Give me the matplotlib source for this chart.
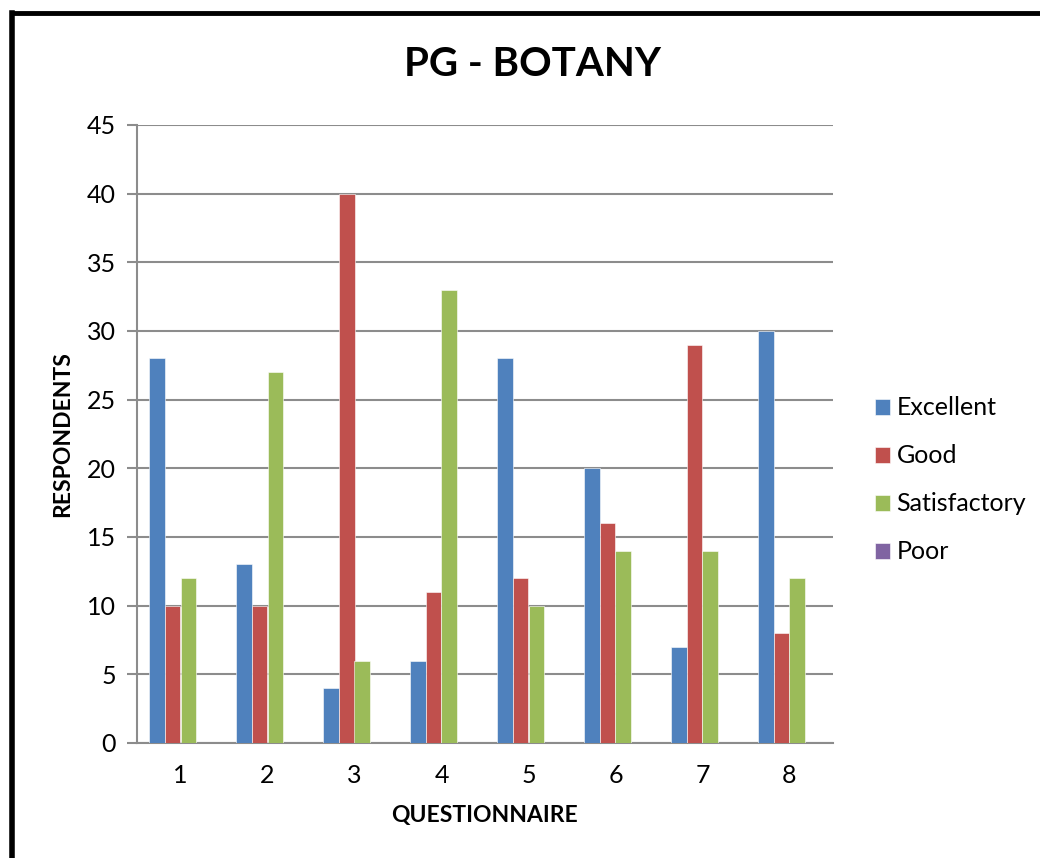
import matplotlib
matplotlib.use("Agg")
import matplotlib.pyplot as plt
import numpy as np
from matplotlib.lines import Line2D

questions = ["1", "2", "3", "4", "5", "6", "7", "8"]
series_names = ["Excellent", "Good", "Satisfactory", "Poor"]
excellent = [28, 13, 4, 6, 28, 20, 7, 30]
good = [10, 10, 40, 11, 12, 16, 29, 8]
satisfactory = [12, 27, 6, 33, 10, 14, 14, 12]
poor = [0, 0, 0, 0, 0, 0, 0, 0]
colors = ["#4F81BD", "#C0504D", "#9BBB59", "#8064A2"]

plt.rcParams['font.family'] = ['Lato', 'DejaVu Sans']

W, H = 1040, 858
fig = plt.figure(figsize=(W / 100, H / 100), dpi=100)
ax = fig.add_axes([137 / W, 1 - 743 / H, (833 - 137) / W, (743 - 125) / H])

x = np.arange(1, len(questions) + 1)
bw = 0.18
data = [excellent, good, satisfactory, poor]
for i, (name, vals, c) in enumerate(zip(series_names, data, colors)):
    ax.bar(x + (i - 1.5) * bw, vals, bw, color=c, label=name,
           edgecolor="white", linewidth=0.4, zorder=3)

ax.set_xlim(0.5, 8.5)
ax.set_ylim(0, 45)
ax.set_yticks(range(0, 46, 5))
ax.set_xticks(x)
ax.set_xticklabels(questions)
ax.yaxis.grid(True, color="#8c8c8c", linewidth=1.5, zorder=0)
ax.set_axisbelow(True)
for s in ["top", "right"]:
    ax.spines[s].set_visible(False)
for s in ["left", "bottom"]:
    ax.spines[s].set_color("#8c8c8c")
    ax.spines[s].set_linewidth(1.5)
ax.tick_params(axis="y", length=7, width=1.5, color="#8c8c8c", labelsize=18, pad=8)
ax.tick_params(axis="x", length=0, labelsize=18, pad=15)

ax.set_ylabel("RESPONDENTS", fontsize=16.5, fontweight="bold", labelpad=10)
ax.set_xlabel("QUESTIONNAIRE", fontsize=16.5, fontweight="bold", labelpad=13)
fig.text(532 / W, 1 - 64 / H, "PG - BOTANY", fontsize=29, fontweight="bold",
         ha="center", va="center")

leg = ax.legend(loc="center left", bbox_to_anchor=(1.0287, 0.4256), frameon=False,
                fontsize=18, handlelength=0.6, handleheight=0.6,
                labelspacing=1.0, handletextpad=0.24)

# black frame (left and top)
fig.add_artist(Line2D([12 / W, 12 / W], [0, 1 - 13 / H], color="black",
                      linewidth=4, transform=fig.transFigure, solid_capstyle="projecting"))
fig.add_artist(Line2D([12 / W, 1.0], [1 - 13 / H, 1 - 13 / H], color="black",
                      linewidth=3.5, transform=fig.transFigure, solid_capstyle="projecting"))

fig.savefig("out.png", dpi=100)
